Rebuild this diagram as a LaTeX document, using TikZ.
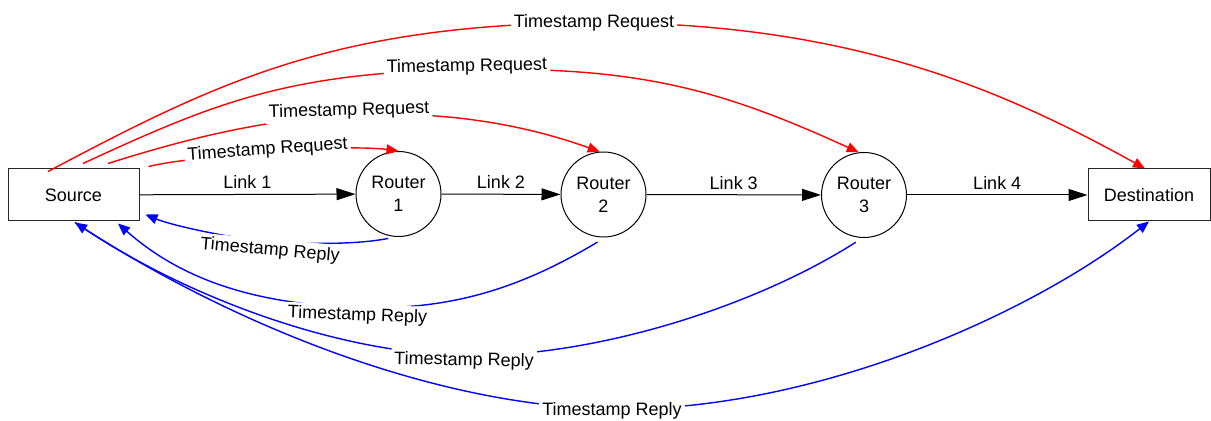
\documentclass[tikz,border=0pt]{standalone}
\usepackage{fontspec}
\setmainfont{Liberation Sans}
\usetikzlibrary{arrows.meta}
\definecolor{reqred}{RGB}{255,0,0}
\definecolor{repblue}{RGB}{0,0,255}

\begin{document}
\begin{tikzpicture}[x=0.5pt,y=-0.5pt,
  every node/.style={font=\fontsize{9}{11.5}\selectfont},
  box/.style={draw=black!85, line width=0.5pt, minimum width=65.5pt, minimum height=26pt, inner sep=0pt},
  router/.style={draw=black, line width=0.5pt, circle, minimum size=42.5pt, inner sep=0pt, align=center},
  link/.style={draw=black, line width=0.5pt, -{Triangle[length=9.5pt,width=6pt]}},
  linklbl/.style={midway, yshift=6pt, inner sep=0pt},
  request/.style={draw=reqred, line width=0.7pt, -{Triangle[length=6pt,width=5pt]}},
  reply/.style={draw=repblue, line width=0.7pt},
  replyarrow/.style={reply, -{Triangle[length=6pt,width=5pt]}},
  msg/.style={fill=white, inner sep=1.5pt, text height=6.5pt, text depth=1.9pt}]

\useasboundingbox (0,0) rectangle (1211,421);

% hosts and routers
\node[box] (src) at (73.5,195) {Source};
\node[router] (r1) at (398.5,194) {Router\\1};
\node[router] (r2) at (603.5,194.5) {Router\\2};
\node[router] (r3) at (864,195) {Router\\3};
\node[box, minimum width=61pt] (dst) at (1149,195) {Destination};

% forward links
\draw[link] (src) -- node[linklbl] (l1) {Link 1} (r1);
\draw[link] (r1) -- node[linklbl] (l2) {Link 2} (r2);
\draw[link] (r2) -- node[linklbl] (l3) {Link 3} (r3);
\draw[link] (r3) -- node[linklbl] (l4) {Link 4} (dst);

% attachment points of the message curves
\coordinate (a1) at ([shift={(-25.5,3)}]src.north);
\coordinate (a2) at ([shift={(9.5,-5)}]src.north);
\coordinate (a3) at ([shift={(34.5,-5)}]src.north);
\coordinate (a4) at ([shift={(9,-2)}]src.north east);
\coordinate (b1) at ([shift={(6,-7)}]src.south east);
\coordinate (b2) at ([shift={(44.5,2)}]src.south);
\coordinate (b3) at ([shift={(1.5,1)}]src.south);
\coordinate (e1) at ([shift={(-4,0)}]dst.north);
\coordinate (s1) at ([shift={(-0.5,2.5)}]r1.257);
\coordinate (s2) at ([shift={(0,5)}]r2.262);
\coordinate (s3) at ([shift={(0,5)}]r3.259);

% points where the curves pass under their labels
\coordinate (mq1) at (594,22.5);
\coordinate (mq2) at (467,69.5);
\coordinate (mq3) at (349,115.5);
\coordinate (mq4) at (267.5,153);
\coordinate (mp1) at (270,241.5);
\coordinate (mp2) at (357.5,307.5);
\coordinate (mp3) at (464,355.5);
\coordinate (mp4) at (612,409);

% timestamp requests
\draw[request] (a1) .. controls +(170,-90) and +(-260,2) .. (mq1)
  node[msg] (q1) {Timestamp Request}
  .. controls +(250,0) and +(-150,-83) .. (e1);
\draw[request] (a2) .. controls +(130,-60) and +(-180,3) .. (mq2)
  node[msg, yshift=1.4pt, rotate=1] (q2) {Timestamp Request}
  .. controls +(170,-3) and +(-140,-64) .. (r3.97);
\draw[request] (a3) .. controls +(60,-19) and +(-90,3) .. (mq3)
  node[msg, yshift=2.35pt, rotate=1.5] (q3) {Timestamp Request}
  .. controls +(100,-6) and +(-70,-25) .. (r2.95);
\draw[request] (a4) .. controls +(30,-7) and +(-50,4) .. (mq4)
  node[msg, yshift=1.5pt, rotate=4] (q4) {Timestamp Request}
  .. controls +(50,-6) and +(-30,-4) .. (r1.north);

% timestamp replies
\draw[replyarrow] (s1) .. controls +(-30,6) and +(40,3) .. (mp1)
  node[msg, yshift=-4.5pt, rotate=-5] (p1) {Timestamp Reply}
  .. controls +(-40,-3) and +(25,10.5) .. (b1);
\draw[replyarrow] (s2) .. controls +(-80,48) and +(90,3) .. (mp2)
  node[msg, yshift=-4.15pt, rotate=-2] (p2) {Timestamp Reply}
  .. controls +(-90,-3) and +(70,62) .. (b2);
\draw[replyarrow] (s3) .. controls +(-100,64) and +(130,2.5) .. (mp3)
  node[msg, yshift=-2.65pt, rotate=-1] (p3) {Timestamp Reply}
  .. controls +(-130,-2.5) and +(110,73) .. (b3);
\draw[replyarrow] (b3) .. controls +(150,99) and +(-180,-2.5) .. (mp4)
  node[msg, yshift=-1pt] (p4) {Timestamp Reply}
  .. controls +(200,2.8) and +(-120,94) .. (dst.south);
\end{tikzpicture}
\end{document}
